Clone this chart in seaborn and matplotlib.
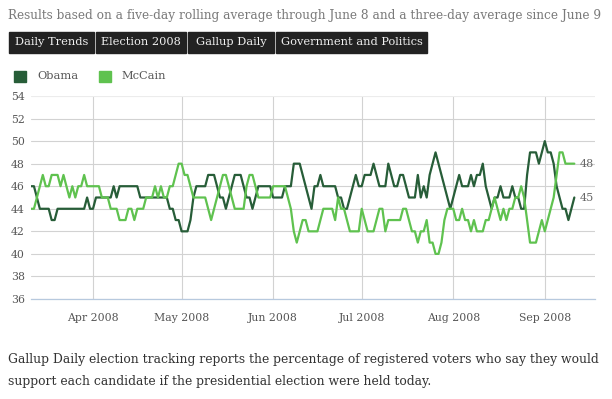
import pandas as pd
import numpy as np
import seaborn as sns
import matplotlib.pyplot as plt
import matplotlib.dates as mdates
from matplotlib.patches import Rectangle

# estilo base
sns.set_style("white")
plt.rcParams['font.family'] = ['DejaVu Serif']

# dados (um valor por dia, 11 mar - 11 set 2008)
data_inicio = "2008-03-11"
obama = [
    46, 46, 45, 44, 44, 44, 44, 43, 43, 44, 44, 44, 44, 44, 44, 44, 44, 44, 44, 45, 44,  # mar
    44, 45, 45, 45, 45, 45, 45, 46, 45, 46, 46, 46, 46, 46, 46, 46, 45, 45, 45, 45,
    45, 45, 45, 45, 45, 45, 44, 44, 43, 43,  # abr
    42, 42, 42, 43, 45, 46, 46, 46, 46, 47, 47, 47, 46, 45, 45, 44, 45, 46, 47, 47,
    47, 46, 45, 45, 44, 45, 46, 46, 46, 46, 46,  # mai
    45, 45, 45, 45, 46, 46, 46, 48, 48, 48, 47, 46, 45, 44, 46, 46, 47, 46, 46, 46,
    46, 46, 45, 45, 44, 44, 45, 46, 47, 46,  # jun
    46, 47, 47, 47, 48, 47, 46, 46, 46, 48, 47, 46, 46, 47, 47, 46, 45, 45, 45, 47,
    45, 46, 45, 47, 48, 49, 48, 47, 46, 45, 44,  # jul
    45, 46, 47, 46, 46, 46, 47, 46, 47, 47, 48, 46, 45, 44, 45, 45, 46, 45, 45, 45,
    46, 45, 45, 44, 44, 47, 49, 49, 49, 48, 49,  # ago
    50, 49, 49, 48, 46, 45, 44, 44, 43, 44, 45,  # set
]
mccain = [
    44, 44, 45, 46, 47, 46, 46, 47, 47, 47, 46, 47, 46, 45, 46, 45, 46, 46, 47, 46, 46,  # mar
    46, 46, 46, 45, 45, 45, 44, 44, 44, 43, 43, 43, 44, 44, 43, 44, 44, 44, 45, 45,
    45, 46, 45, 46, 45, 45, 46, 46, 47, 48,  # abr
    48, 47, 47, 46, 45, 45, 45, 45, 45, 44, 43, 44, 45, 46, 47, 47, 46, 45, 44, 44,
    44, 44, 46, 47, 47, 46, 45, 45, 45, 45, 45,  # mai
    46, 46, 46, 46, 46, 45, 44, 42, 41, 42, 43, 43, 42, 42, 42, 42, 43, 44, 44, 44,
    44, 43, 45, 44, 44, 43, 42, 42, 42, 42,  # jun
    44, 43, 42, 42, 42, 43, 44, 44, 42, 43, 43, 43, 43, 43, 44, 44, 43, 42, 42, 41,
    42, 42, 43, 41, 41, 40, 40, 41, 43, 44, 44,  # jul
    44, 43, 43, 44, 43, 43, 42, 43, 42, 42, 42, 43, 43, 44, 45, 44, 43, 44, 43, 44,
    44, 45, 45, 46, 45, 43, 41, 41, 41, 42, 43,  # ago
    42, 43, 44, 45, 47, 49, 49, 48, 48, 48, 48,  # set
]
candidatos = ['Obama', 'McCain']
cores = {'Obama': '#275d38', 'McCain': '#5fc24f'}
tags = ['Daily Trends', 'Election 2008', 'Gallup Daily', 'Government and Politics']
y_ticks = list(range(36, 55, 2))

subtitulo = "Results based on a five-day rolling average through June 8 and a three-day average since June 9"
rodape = ["Gallup Daily election tracking reports the percentage of registered voters who say they would",
          "support each candidate if the presidential election were held today."]

# montar dataframe longo
datas = pd.date_range(data_inicio, periods=len(obama), freq='D')
df = pd.concat([
    pd.DataFrame({'data': datas, 'candidato': 'Obama', 'valor': obama}),
    pd.DataFrame({'data': datas, 'candidato': 'McCain', 'valor': mccain}),
])

W, H = 612, 399
fig = plt.figure(figsize=(W / 100, H / 100), dpi=100)
ax = fig.add_axes([31 / W, 1 - 299 / H, 564 / W, 203 / H])

sns.lineplot(data=df, x='data', y='valor', hue='candidato', palette=cores,
             linewidth=1.6, legend=False, ax=ax)

ax.set_ylim(36, 54)
ax.set_yticks(y_ticks)
ax.set_xlim(pd.Timestamp(data_inicio), pd.Timestamp("2008-09-18"))
ax.xaxis.set_major_locator(mdates.MonthLocator())
ax.xaxis.set_major_formatter(mdates.DateFormatter('%b %Y'))
ax.set_xlabel('')
ax.set_ylabel('')

ax.set_axisbelow(True)
ax.grid(True, color='#d2d2d2', linewidth=0.8)
ax.get_ygridlines()[-1].set_color('#ececec')
for lado in ['left', 'right', 'top']:
    ax.spines[lado].set_visible(False)
ax.spines['bottom'].set_color('#b7c9de')
ax.spines['bottom'].set_linewidth(0.9)
ax.tick_params(length=0, labelsize=7.8, labelcolor='#555555')
ax.tick_params(axis='x', pad=10)
ax.tick_params(axis='y', pad=4.5)

# valores finais ao lado das linhas
for nome, valores in [('Obama', obama), ('McCain', mccain)]:
    ax.text(datas[-1] + pd.Timedelta(days=1.8), valores[-1], str(valores[-1]),
            ha='left', va='center', fontsize=8, color='#666666')

# subtitulo
fig.text(8 / W, 1 - 15 / H, subtitulo, ha='left', va='center', fontsize=8.7, color='#7a7a7a')

# barra de tags
limites = [(9, 94), (96, 186), (188, 274), (276, 427)]
for tag, (x0, x1) in zip(tags, limites):
    fig.patches.append(Rectangle((x0 / W, 1 - 53 / H), (x1 - x0) / W, 21 / H,
                                 transform=fig.transFigure, color='#222222'))
    fig.text((x0 + x1) / 2 / W, 1 - 42 / H, tag, ha='center', va='center',
             fontsize=8.2, color='#f0f0f0')

# legenda
leg_x = [(14, 37), (99, 121)]
for nome, (xq, xt) in zip(candidatos, leg_x):
    fig.patches.append(Rectangle((xq / W, 1 - 82 / H), 12 / W, 11 / H,
                                 transform=fig.transFigure, color=cores[nome]))
    fig.text(xt / W, 1 - 76 / H, nome, ha='left', va='center', fontsize=8.2, color='#555555')

# rodape
fig.text(8 / W, 1 - 360 / H, rodape[0], ha='left', va='center', fontsize=8.9, color='#333333')
fig.text(8 / W, 1 - 382 / H, rodape[1], ha='left', va='center', fontsize=8.9, color='#333333')

fig.savefig('out.png', dpi=100)
